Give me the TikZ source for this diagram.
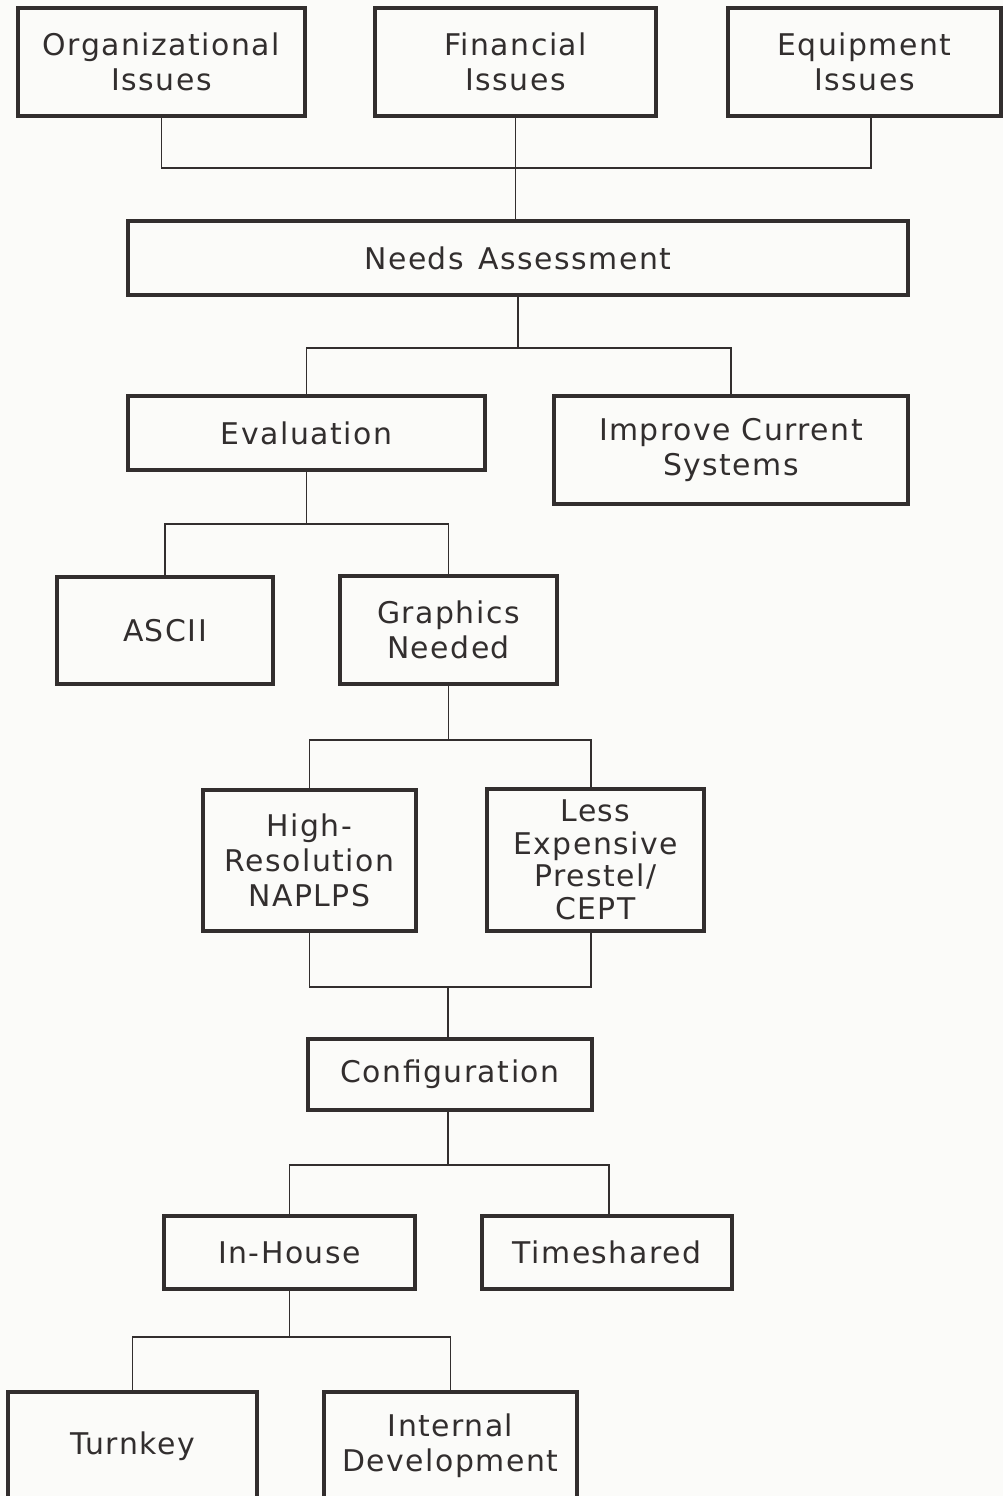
\documentclass[tikz,border=0pt]{standalone}
\usepackage{fontspec}
\newfontfamily\chartfont{DejaVu Sans}[LetterSpace=5]
\usepackage{tikz}
\pgfdeclarelayer{bg}
\pgfsetlayers{bg,main}
\definecolor{ink}{RGB}{50,46,46}
\definecolor{paper}{RGB}{251,251,249}
\tikzset{
  box/.style={draw=ink, line width=1.8pt, align=center, inner sep=0pt,
    text=ink, font=\chartfont\fontsize{17}{20}\selectfont},
  link/.style={draw=ink, line width=1pt}
}

\begin{document}
\begin{tikzpicture}
        \clip (0,0) rectangle (20.06,-29.92);
        % top row
        \node (org) [box, minimum width=5.74cm, minimum height=2.16cm] at (3.23cm, -1.24cm) {Organizational\\Issues};
        \node (fin) [box, minimum width=5.62cm, minimum height=2.16cm] at (10.31cm, -1.24cm) {Financial\\Issues};
        \node (equ) [box, minimum width=5.46cm, minimum height=2.16cm] at (17.29cm, -1.24cm) {Equipment\\Issues};
        \node (needs) [box, minimum width=15.6cm, minimum height=1.48cm] at (10.36cm, -5.16cm) {Needs\enspace Assessment};
        \node (eval) [box, minimum width=7.14cm, minimum height=1.48cm] at (6.13cm, -8.66cm) {Evaluation};
        \node (impr) [box, minimum width=7.08cm, minimum height=2.16cm] at (14.62cm, -9.00cm) {Improve Current\\Systems};
        \node (ascii) [box, minimum width=4.32cm, minimum height=2.14cm] at (3.30cm, -12.61cm) {ASCII};
        \node (graph) [box, minimum width=4.34cm, minimum height=2.16cm] at (8.97cm, -12.60cm) {Graphics\\Needed};
        \node (high) [box, minimum width=4.26cm, minimum height=2.82cm] at (6.19cm, -17.21cm) {High-\\Resolution\\NAPLPS};
        \node (less) [box, minimum width=4.34cm, minimum height=2.84cm, font=\chartfont\fontsize{17}{18.5}\selectfont] at (11.91cm, -17.20cm) {Less\\Expensive\\Prestel/\\CEPT};
        \node (conf) [box, minimum width=5.68cm, minimum height=1.42cm] at (9.00cm, -21.49cm) {Configuration};
        \node (inh) [box, minimum width=5.02cm, minimum height=1.46cm] at (5.79cm, -25.05cm) {In-House};
        \node (time) [box, minimum width=5.00cm, minimum height=1.46cm] at (12.14cm, -25.05cm) {Timeshared};
        \node (turn) [box, minimum width=4.98cm, minimum height=2.16cm] at (2.65cm, -28.92cm) {Turnkey};
        \node (intd) [box, minimum width=5.06cm, minimum height=2.16cm] at (9.01cm, -28.92cm) {Internal\\Development};
        % junctions
        \coordinate (j1) at (10.32cm, -3.36cm);
        \coordinate (j2) at (10.34cm, -6.96cm);
        \coordinate (j3) at (6.10cm, -10.48cm);
        \coordinate (j4) at (8.96cm, -14.80cm);
        \coordinate (j5) at (8.96cm, -19.74cm);
        \coordinate (j6) at (8.96cm, -23.30cm);
        \coordinate (j7) at (5.78cm, -26.74cm);
        \begin{pgfonlayer}{bg}
                \fill[paper] (0,0) rectangle (20.06,-29.92);
                \draw[link] (org.south) |- (j1) -| ([xshift=0.13cm]equ.south);
                \draw[link] (fin.south) -- (fin.south |- needs.north);
                \draw[link] (needs.south) -- (needs.south |- j2);
                \draw[link] (eval.north) |- (j2) -| (impr.north);
                \draw[link] (eval.south) -- (eval.south |- j3);
                \draw[link] (ascii.north) |- (j3) -| (graph.north);
                \draw[link] (graph.south) -- (graph.south |- j4);
                \draw[link] (high.north) |- (j4) -| ([xshift=-0.09cm]less.north);
                \draw[link] (high.south) |- (j5) -| ([xshift=-0.09cm]less.south);
                \draw[link] (j5) -- (conf.north -| j5);
                \draw[link] (conf.south -| j6) -- (j6);
                \draw[link] (inh.north) |- (j6) -| ([xshift=0.04cm]time.north);
                \draw[link] (inh.south) -- (inh.south |- j7);
                \draw[link] (turn.north) |- (j7) -| (intd.north);
        \end{pgfonlayer}
\end{tikzpicture}
\end{document}
